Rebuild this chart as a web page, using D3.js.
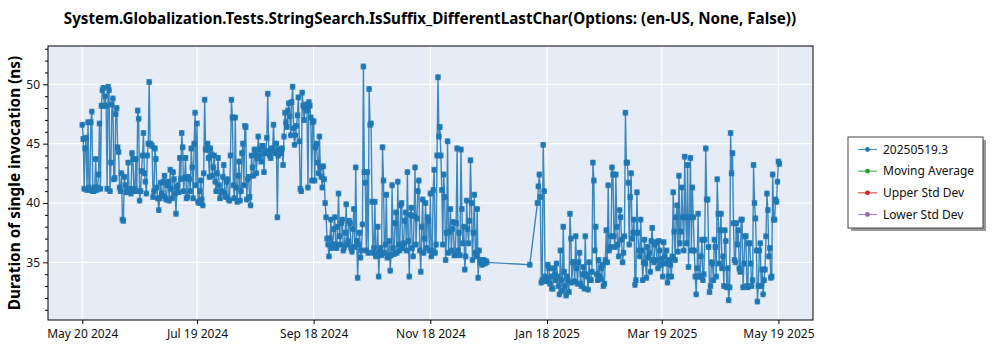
<!DOCTYPE html>
<html><head><meta charset="utf-8">
<script src="https://cdn.jsdelivr.net/npm/d3@7"></script>
<style>body{margin:0;background:#fff;} svg{display:block;font-family:"Noto Sans","Open Sans",sans-serif;}</style>
</head><body><svg id="c" width="1000" height="350"></svg>
<script>
// ---- data: two measurements per day (morning run / evening run), values in ns ----
const may2024 = [46.6,41.2,45.5,46.8,41.1,47.7,41.0,43.7,41.3,46.7,48.2,49.7];
const may2024b = [45.4,44.6,41.1,41.3,46.8,41.0,41.3,41.1,42.4,41.2,49.5,48.2];
const jun2024 = [49.0,41.2,49.5,43.4,48.8,42.1,48.0,44.3,41.0,38.6,42.2,40.9,43.4,41.2,44.2,41.0,43.7,47.8,40.2,42.7,45.9,41.8,44.0,50.2,44.9,40.5,44.6,41.3,39.4,41.7];
const jun2024b = [48.2,49.8,41.0,48.3,42.0,47.5,44.7,41.3,42.5,38.5,41.5,41.0,41.1,40.8,43.7,41.2,41.0,47.1,41.0,44.0,42.5,40.8,45.0,45.0,44.8,41.0,43.7,40.4,40.4,40.8];
const jul2024 = [40.6,42.3,40.3,41.8,42.8,40.4,42.0,39.1,41.5,43.8,45.9,41.0,43.8,40.5,42.0,44.6,40.4,47.6,46.7,40.0,41.9,39.8,48.7,44.5,43.8,44.6,42.3,44.0,41.0,43.8,40.4];
const jul2024b = [41.8,40.4,41.5,40.2,41.2,42.6,40.8,41.3,40.9,42.0,44.7,42.1,40.4,42.2,41.0,43.0,45.0,41.5,40.1,41.0,40.3,42.5,44.5,45.0,42.2,44.1,43.0,41.8,42.5,41.5,40.9];
const aug2024 = [41.0,43.2,40.5,42.0,40.2,48.7,41.5,47.2,40.1,43.5,41.0,45.0,46.5,40.3,42.2,39.8,43.0,44.5,42.5,45.6,44.0,44.8,42.6,44.4,49.2,44.0,44.6,46.6,44.2,38.8,44.5];
const aug2024b = [42.2,40.8,41.8,40.3,44.0,47.2,40.4,41.3,42.3,40.2,44.2,41.5,46.4,42.0,40.5,44.0,42.3,44.1,43.8,44.5,43.5,44.8,44.2,45.5,44.3,43.8,44.5,44.3,45.0,44.0,44.5];
const sep2024 = [44.2,43.2,47.6,46.4,48.4,45.7,49.8,44.9,46.5,48.9,41.2,49.3,47.0,48.3,41.3,48.2,41.9,46.9,44.7,43.4,45.6,42.2,43.1,40.0,37.0,35.5,38.6,36.5,38.8,36.2];
const sep2024b = [44.6,45.6,46.8,47.8,47.3,48.5,46.3,45.7,47.4,45.2,41.0,48.2,48.0,47.8,48.5,47.2,46.8,41.9,45.0,42.5,43.0,41.3,42.0,38.8,36.5,37.0,36.2,37.8,36.5,38.0];
const oct2024 = [40.8,36.5,38.6,36.3,39.9,36.8,38.3,35.9,39.5,43.0,33.7,37.5,36.0,51.5,41.7,42.6,49.6,46.7,35.8,40.1,35.6,33.8,36.2,44.7,35.8,40.7,35.5,34.3,41.5,35.7,39.2];
const oct2024b = [37.2,38.3,36.0,37.5,36.5,38.5,36.2,37.8,36.3,36.8,36.5,35.4,38.2,42.6,36.0,35.8,46.6,40.1,36.2,35.5,38.0,35.8,35.6,41.9,36.5,35.4,36.8,35.6,36.2,38.3,35.8];
const nov2024 = [41.8,36.0,40.0,36.6,39.2,42.6,33.8,39.6,35.5,43.0,38.7,41.9,34.2,40.3,37.0,36.2,38.5,40.8,36.0,42.8,36.5,50.6,46.4,41.1,42.4,35.2,45.2,37.6,36.0,38.4];
const nov2024b = [36.5,39.8,36.2,38.5,36.0,36.8,39.0,36.2,38.9,36.5,41.0,36.0,38.0,35.8,40.0,38.8,36.0,35.5,41.1,35.8,44.0,45.6,44.0,36.5,40.5,37.5,35.8,39.5,37.8,35.6];
const dec2024 = [35.6,44.6,37.5,44.5,36.6,34.4,40.2,36.6,43.6,35.2,40.7,35.5,33.7,35.0,34.8,35.2,35.1];
const dec2024b = [38.3,36.0,35.6,39.5,38.0,35.5,37.8,38.5,40.0,37.5,35.8,39.5,36.0,35.2,35.0,34.9,35.0];
const jan2025a = [34.8];
const jan2025ab = [];
const jan2025 = [40.0,42.4,33.3,44.9,33.8,33.6,34.5,33.8,32.8,34.0,34.9,33.0,36.0,32.6,34.2,32.2,33.5,39.1,33.3];
const jan2025b = [41.4,40.5,33.5,41.0,33.4,34.8,33.2,32.8,34.5,33.5,33.8,32.3,33.5,38.0,33.0,33.8,32.5,37.0,35.0];
const feb2025 = [35.0,37.2,33.2,35.8,33.0,34.6,37.2,33.8,35.0,33.5,43.4,36.0,34.0,35.2,33.6,34.8,33.2,37.7,41.5,36.3,43.0,37.2,42.4,36.5,39.4,36.9,35.8,47.6];
const feb2025b = [33.4,34.5,35.0,33.2,34.0,32.8,34.0,32.7,33.5,34.2,41.9,38.0,33.5,33.8,34.5,33.0,35.2,35.0,36.0,37.2,42.4,36.3,38.0,35.5,38.8,35.0,37.2,43.4];
const mar2025 = [43.4,36.5,42.5,37.5,33.1,40.9,36.0,38.6,33.5,36.9,33.7,35.4,34.2,37.9,35.0,36.7,34.5,36.0,35.3,36.7,34.9,33.3,35.2,33.8,40.9,35.2,39.8,42.3,37.6,38.8,43.9];
const mar2025b = [41.7,40.5,37.0,38.6,33.5,37.5,35.5,36.0,35.0,34.9,36.3,35.8,36.8,35.2,36.5,35.2,36.8,34.8,33.8,35.5,36.0,33.8,34.8,35.5,37.6,38.8,35.9,36.6,41.3,36.0,38.8];
const apr2025 = [36.6,34.6,43.8,41.3,36.0,32.3,39.1,33.8,36.9,34.0,44.6,40.3,32.5,35.0,33.5,36.3,42.0,34.9,39.1,35.5,37.7,32.9,31.8,45.9,44.2,35.2,38.3,37.7,34.2,38.6];
const apr2025b = [43.2,38.8,36.0,38.8,33.8,34.5,33.8,35.5,33.5,36.9,40.3,36.3,33.0,34.9,36.9,33.8,39.1,37.7,34.5,33.0,36.8,34.5,32.9,42.5,38.3,35.0,36.5,34.5,38.6,32.9];
const may2025 = [34.9,37.2,32.9,36.6,33.0,43.2,38.7,31.7,36.0,33.0,32.3,34.4,40.8,35.5,33.7,42.4,38.6,40.1,43.5];
const may2025b = [37.2,33.0,36.6,34.9,33.5,40.0,36.0,33.0,36.6,34.4,33.5,37.2,39.4,36.2,33.8,38.6,40.3,41.8,43.3];
// first date of each run of daily values
const runStarts = ["2024-05-20","2024-06-01","2024-07-01","2024-08-01","2024-09-01","2024-10-01","2024-11-01","2024-12-01","2025-01-09","2025-01-13","2025-02-01","2025-03-01","2025-04-01","2025-05-01"];
const runMorning = [may2024,jun2024,jul2024,aug2024,sep2024,oct2024,nov2024,dec2024,jan2025a,jan2025,feb2025,mar2025,apr2025,may2025];
const runEvening = [may2024b,jun2024b,jul2024b,aug2024b,sep2024b,oct2024b,nov2024b,dec2024b,jan2025ab,jan2025b,feb2025b,mar2025b,apr2025b,may2025b];
const errHalf = 0.2;
const xTickLabels = ["2024-05-20","2024-07-19","2024-09-18","2024-11-18","2025-01-18","2025-03-19","2025-05-19"];
const yTickValues = [35,40,45,50];
const legendLabels = ["20250519.3","Moving Average","Upper Std Dev","Lower Std Dev"];
const legendColors = ["#1f77b4","#2ca02c","#d62728","#9467bd"];
const title = "System.Globalization.Tests.StringSearch.IsSuffix_DifferentLastChar(Options: (en-US, None, False))";
const yLabel = "Duration of single invocation (ns)";

const parse = d3.timeParse("%Y-%m-%d");
const data = [];
runStarts.forEach((s,i)=>{
  const d0 = parse(s);
  runMorning[i].forEach((v,j)=>{
    const day = d3.timeDay.offset(d0,j);
    data.push({date:day, value:v});
    if (runEvening[i][j] !== undefined) data.push({date:d3.timeHour.offset(day,12), value:runEvening[i][j]});
  });
});

const svg = d3.select("#c");
const L=48, R=813, T=46, B=320;
const x = d3.scaleTime().domain([new Date(2024,4,2,2), new Date(2025,5,6,2)]).range([L,R]);
const y = d3.scaleLinear().domain([30.14,53.23]).range([B,T]);

svg.append("rect").attr("x",L).attr("y",T).attr("width",R-L).attr("height",B-T).attr("fill","#e5ecf6");

const xTicks = xTickLabels.map(parse);
svg.append("g").selectAll("line").data(xTicks).join("line")
  .attr("x1",d=>x(d)).attr("x2",d=>x(d)).attr("y1",T).attr("y2",B)
  .attr("stroke","#fff").attr("stroke-width",1.2);
svg.append("g").selectAll("line").data(yTickValues).join("line")
  .attr("x1",L).attr("x2",R).attr("y1",d=>y(d)).attr("y2",d=>y(d))
  .attr("stroke","#fff").attr("stroke-width",1.2);

svg.append("clipPath").attr("id","pc").append("rect")
  .attr("x",L).attr("y",T).attr("width",R-L).attr("height",B-T);
const plot = svg.append("g").attr("clip-path","url(#pc)");

const blue = "#1f77b4";
// error bars
const eb = plot.append("g").attr("stroke",blue).attr("stroke-opacity",0.6).attr("stroke-width",1.2);
eb.selectAll("path").data(data).join("path")
  .attr("d",d=>{
    const cx=x(d.date), y1=y(d.value+errHalf), y2=y(d.value-errHalf);
    return `M${cx},${y1}V${y2}M${cx-3},${y1}H${cx+3}M${cx-3},${y2}H${cx+3}`;
  });
// line
plot.append("path").datum(data)
  .attr("d",d3.line().x(d=>x(d.date)).y(d=>y(d.value)))
  .attr("fill","none").attr("stroke",blue).attr("stroke-width",1.4).attr("stroke-opacity",0.85);
// markers
plot.append("g").selectAll("circle").data(data).join("circle")
  .attr("cx",d=>x(d.date)).attr("cy",d=>y(d.value)).attr("r",2.8).attr("fill",blue);

// frame
svg.append("rect").attr("x",L).attr("y",T).attr("width",R-L).attr("height",B-T)
  .attr("fill","none").attr("stroke","#000").attr("stroke-width",1);

// axes
const xa = svg.append("g").attr("transform",`translate(0,${B})`)
  .call(d3.axisBottom(x).tickValues(xTicks).tickFormat(d3.timeFormat("%b %d %Y")).tickSize(4).tickSizeOuter(0));
xa.select(".domain").remove();
xa.selectAll("text").attr("font-size",12).attr("fill","#111").attr("font-family","Noto Sans").attr("dy","0.95em");
xa.selectAll("line").attr("stroke","#000");

const ya = svg.append("g").attr("transform",`translate(${L},0)`)
  .call(d3.axisLeft(y).tickValues(yTickValues).tickSize(5).tickSizeOuter(0));
ya.select(".domain").remove();
ya.selectAll("text").attr("font-size",12).attr("fill","#111").attr("font-family","Noto Sans").attr("x",-8);
ya.selectAll("line").attr("stroke","#000");
const yMinor = d3.range(31,54).filter(v=>v%5!==0);
const ym = svg.append("g").attr("transform",`translate(${L},0)`)
  .call(d3.axisLeft(y).tickValues(yMinor).tickSize(3).tickFormat(""));
ym.select(".domain").remove();
ym.selectAll("line").attr("stroke","#000");

// title & label
svg.append("text").attr("x",430).attr("y",24).attr("text-anchor","middle")
  .attr("font-size",15.2).attr("font-weight","bold").attr("fill","#000").text(title);
svg.append("text").attr("transform","translate(20,183) rotate(-90)").attr("text-anchor","middle")
  .attr("font-size",15.4).attr("font-weight","bold").attr("fill","#000").text(yLabel);

// legend
const lg = svg.append("g");
lg.append("rect").attr("x",851).attr("y",140).attr("width",135).attr("height",91).attr("fill","#999");
lg.append("rect").attr("x",848).attr("y",137).attr("width",135).attr("height",91).attr("fill","#fff").attr("stroke","#444").attr("stroke-width",1);
const ly = d3.scalePoint().domain(legendLabels).range([149.5,214.5]);
legendLabels.forEach((lab,i)=>{
  const yy = ly(lab);
  lg.append("line").attr("x1",858).attr("x2",877).attr("y1",yy).attr("y2",yy).attr("stroke",legendColors[i]).attr("stroke-width",1.2).attr("stroke-opacity",0.8);
  lg.append("circle").attr("cx",867.5).attr("cy",yy).attr("r",2.4).attr("fill",legendColors[i]);
  lg.append("text").attr("x",883).attr("y",yy).attr("dy","0.35em").attr("font-size",12).attr("fill","#111").text(lab);
});
</script></body></html>
